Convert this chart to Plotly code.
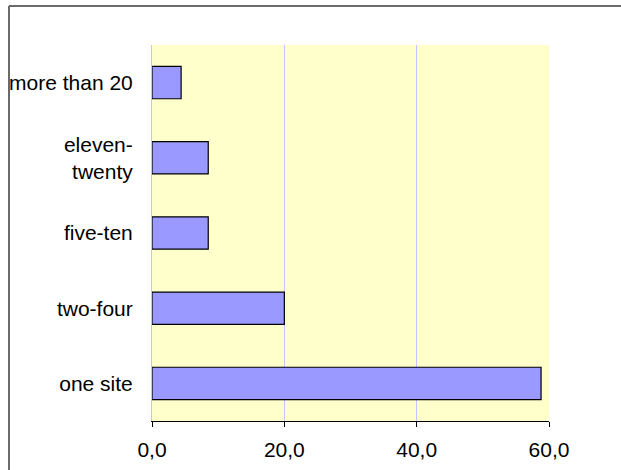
import plotly.graph_objects as go

categories = ["one site", "two-four", "five-ten", "eleven-<br>twenty", "more than 20"]
values = [58.8, 20.0, 8.5, 8.5, 4.4]
x_ticks = [0, 20, 40, 60]
x_tick_labels = ["0,0", "20,0", "40,0", "60,0"]

W, H = 621, 470
L, R, T, B = 152, 72, 45, 49
pw = W - L - R
ph = H - T - B

fig = go.Figure()
fig.add_trace(go.Bar(
    x=values, y=categories, orientation="h",
    marker=dict(color="#9999FF", line=dict(color="#000000", width=1.2)),
    hoverinfo="x+y",
))

font = "Liberation Sans, Arial, sans-serif"
fig.update_layout(
    width=W, height=H,
    margin=dict(l=L, r=R, t=T, b=B, pad=0, autoexpand=False),
    paper_bgcolor="#FFFFFF",
    plot_bgcolor="#FFFFCC",
    bargap=0.57,
    showlegend=False,
    font=dict(family=font, size=21, color="#000000"),
    xaxis=dict(
        range=[0, 60], tickvals=x_ticks, ticktext=x_tick_labels,
        automargin=False,
        showgrid=True, gridcolor="#C4C4FF", gridwidth=1,
        zeroline=False,
        showline=True, linecolor="#000000", linewidth=1,
        ticks="outside", ticklen=5, tickcolor="#000000", tickwidth=1,
        ticklabelstandoff=5,
        tickfont=dict(family=font, size=21, color="#000000"),
        fixedrange=True,
    ),
    yaxis=dict(
        type="category", categoryorder="array", categoryarray=categories,
        range=[-0.5, 4.5],
        automargin=False,
        showgrid=False, zeroline=False,
        showline=True, linecolor="#C4C4FF", linewidth=1,
        ticks="", ticklabelstandoff=14,
        tickfont=dict(family=font, size=21, color="#000000"),
        fixedrange=True,
    ),
)

# outer chart border (left and top edges visible in the frame)
bx = (9 - L) / pw
by = (H - B - 6) / ph
fig.add_shape(type="line", xref="paper", yref="paper", x0=bx, x1=bx, y0=by, y1=-2,
              line=dict(color="#6A6A6A", width=2))
fig.add_shape(type="line", xref="paper", yref="paper", x0=bx, x1=3, y0=by, y1=by,
              line=dict(color="#6A6A6A", width=2))

fig.write_html(
    "out.html",
    config={"displayModeBar": False},
    post_script="document.body.style.margin='0';document.body.style.overflow='hidden';",
)
